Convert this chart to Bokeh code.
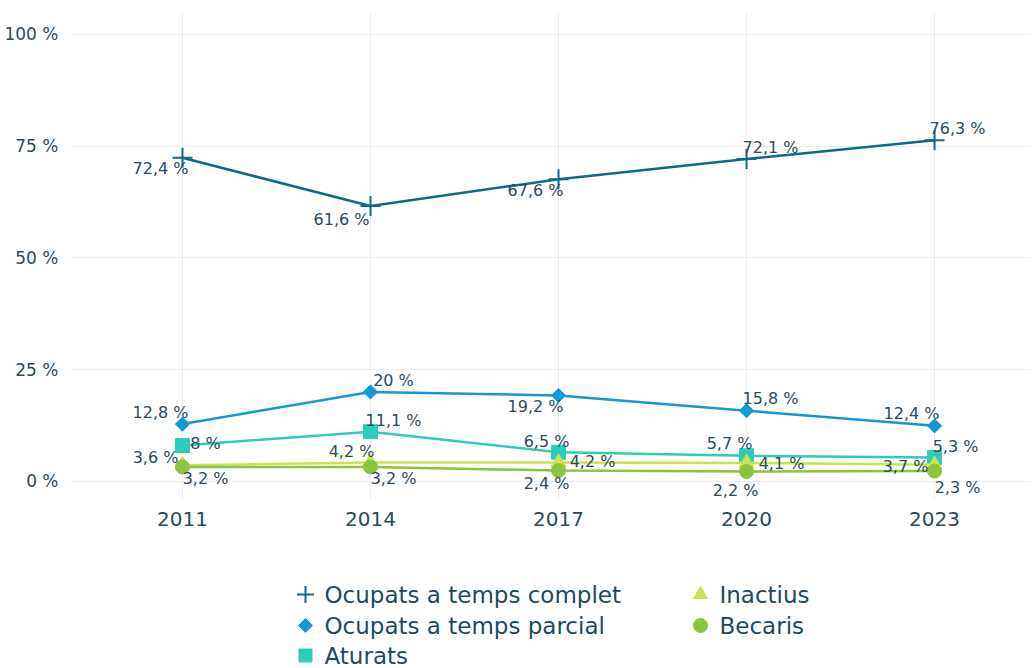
from bokeh.plotting import figure
from bokeh.layouts import column
from bokeh.models import (ColumnDataSource, LabelSet, FixedTicker,
                          PrintfTickFormatter, Range1d)
from bokeh.core.properties import value
from bokeh.embed import file_html
from bokeh.resources import INLINE
import math

years = [2011, 2014, 2017, 2020, 2023]
series_names = ["Ocupats a temps complet", "Ocupats a temps parcial", "Aturats", "Inactius", "Becaris"]
complet = [72.4, 61.6, 67.6, 72.1, 76.3]
parcial = [12.8, 20.0, 19.2, 15.8, 12.4]
aturats = [8.0, 11.1, 6.5, 5.7, 5.3]
inactius = [3.6, 4.2, 4.2, 4.1, 3.7]
becaris = [3.2, 3.2, 2.4, 2.2, 2.3]
y_ticks = [0, 25, 50, 75, 100]

colors = ["#0f6a89", "#1399d6", "#2ecdb9", "#cde153", "#8cc43f"]
markers = ["cross", "square", "square", "triangle", "circle"]
angles = [0, math.pi / 4, 0, 0, 0]
msizes = [20, 10, 14, 15, 14]
leg_sizes = [17, 10, 13, 14, 14]
# label placement offsets (screen px, dx right, dy up)
offsets = [
    [(-22, -11), (-29, -13), (-23, -11), (24, 12), (23, 12)],
    [(-22, 12), (23, 11), (-23, -11), (24, 12), (-23, 12)],
    [(23, 2), (23, 11), (-12, 11), (-17, 12), (21, 11)],
    [(-27, 8), (-19, 11), (34, 1), (35, -1), (-29, -2)],
    [(23, -12), (23, -12), (-12, -13), (-11, -19), (23, -16)],
]

FONT = "DejaVu Sans"
TXT = "#2b4b5d"

p = figure(width=1030, height=546, output_backend="svg", toolbar_location=None,
           x_range=Range1d(2009.213, 2024.531), y_range=Range1d(-4.3, 104.9),
           min_border_left=70, min_border_top=12, min_border_right=0, min_border_bottom=46)
p.outline_line_color = None

for ax in (p.xaxis[0], p.yaxis[0]):
    ax.axis_line_color = None
    ax.major_tick_line_color = None
    ax.minor_tick_line_color = None
    ax.major_label_text_color = TXT
    ax.major_label_text_font = FONT
p.yaxis[0].ticker = FixedTicker(ticks=y_ticks)
p.yaxis[0].formatter = PrintfTickFormatter(format="%d %%")
p.yaxis[0].major_label_text_font_size = "17px"
p.yaxis[0].major_label_standoff = 6
p.xaxis[0].ticker = FixedTicker(ticks=years)
p.xaxis[0].major_label_text_font_size = "20px"
p.xaxis[0].major_label_standoff = 5
p.xgrid.grid_line_color = "#eeeeee"
p.ygrid.grid_line_color = "#eeeeee"
p.xgrid.ticker = FixedTicker(ticks=years)
p.ygrid.ticker = FixedTicker(ticks=y_ticks)

all_vals = [complet, parcial, aturats, inactius, becaris]
for name, vals, col, mk, ang, ms, offs in zip(series_names, all_vals, colors, markers, angles, msizes, offsets):
    src = ColumnDataSource(dict(x=years, y=vals,
                                lab=[("%g" % v).replace(".", ",") + " %" for v in vals],
                                dx=[o[0] for o in offs], dy=[o[1] for o in offs]))
    p.line("x", "y", source=src, line_color=col, line_width=2.5)
    if mk == "cross":
        p.scatter("x", "y", source=src, marker=mk, size=ms, line_color=col, line_width=2)
    else:
        p.scatter("x", "y", source=src, marker=mk, size=ms, angle=ang,
                  fill_color=col, line_color=col)
    ls = LabelSet(x="x", y="y", text="lab", source=src, x_offset="dx", y_offset="dy",
                  text_align="center", text_baseline="middle", text_font=value(FONT),
                  text_font_size="16px", text_color=TXT)
    p.add_layout(ls)

# legend panel (pixel-like coordinates, y downwards)
lg = figure(width=1030, height=122, output_backend="svg", toolbar_location=None,
            x_range=Range1d(70, 1030), y_range=Range1d(668, 546),
            x_axis_type=None, y_axis_type=None,
            min_border_left=0, min_border_right=0, min_border_top=0, min_border_bottom=0)
lg.outline_line_color = None
lg.grid.visible = False
leg_x = [305, 305, 305, 700, 700]
leg_y = [594, 625, 655, 594, 625]
for name, col, mk, ang, ms, lx, ly in zip(series_names, colors, markers, angles, leg_sizes, leg_x, leg_y):
    if mk == "cross":
        lg.scatter([lx], [ly], marker=mk, size=ms, line_color=col, line_width=2)
    else:
        lg.scatter([lx], [ly], marker=mk, size=ms, angle=ang, fill_color=col, line_color=col)
    lg.text([lx + 19], [ly], text=[name], text_align="left", text_baseline="middle",
            text_font=value(FONT), text_font_size="23px", text_color="#1f4a5e")

layout = column(p, lg, spacing=0)
open("out.html", "w").write(file_html(layout, INLINE))
